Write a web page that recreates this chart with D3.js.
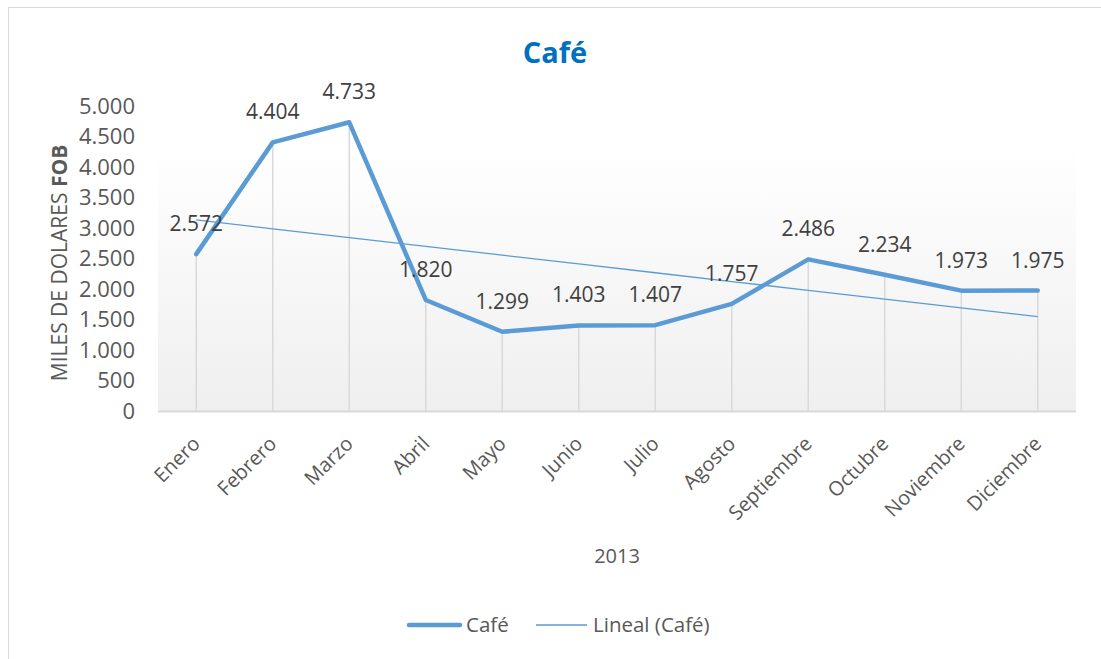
<!DOCTYPE html>
<html>
<head>
<meta charset="utf-8">
<script src="https://cdn.jsdelivr.net/npm/d3@7"></script>
<style>
  html, body { margin: 0; padding: 0; background: #fff; }
  svg { display: block; font-family: "Open Sans", sans-serif; }
</style>
</head>
<body>
<svg id="chart" width="1101" height="659"></svg>
<script>
const months = ["Enero","Febrero","Marzo","Abril","Mayo","Junio","Julio","Agosto","Septiembre","Octubre","Noviembre","Diciembre"];
const cafe = [2572, 4404, 4733, 1820, 1299, 1403, 1407, 1757, 2486, 2234, 1973, 1975];
const yTicks = [0, 500, 1000, 1500, 2000, 2500, 3000, 3500, 4000, 4500, 5000];
const titleText = "Café";
const xTitle = "2013";
const legendLabels = ["Café", "Lineal (Café)"];

const svg = d3.select("#chart");
const color = "#5b9bd5";
const textColor = "#595959";

// border
svg.append("rect").attr("x", 8.5).attr("y", 7.5).attr("width", 1110).attr("height", 670)
  .attr("fill", "#fff").attr("stroke", "#d9d9d9").attr("stroke-width", 1);

const plot = {left: 158, right: 1076, top: 106, bottom: 411};
const x = d3.scaleBand().domain(months).range([plot.left, plot.right]);
const y = d3.scaleLinear().domain([0, 5000]).range([plot.bottom, plot.top]);
const cx = d => x(d) + x.bandwidth() / 2;
const fmt = d => d3.format(",")(d).replace(/,/g, ".");

// plot background gradient
const defs = svg.append("defs");
const grad = defs.append("linearGradient").attr("id", "bg").attr("x1", 0).attr("y1", 0).attr("x2", 0).attr("y2", 1);
grad.append("stop").attr("offset", "0%").attr("stop-color", "#ffffff");
grad.append("stop").attr("offset", "100%").attr("stop-color", "#efefef");
svg.append("rect").attr("x", plot.left).attr("y", 147).attr("width", plot.right - plot.left)
  .attr("height", plot.bottom - 147).attr("fill", "url(#bg)");

// vertical gridlines
svg.append("g").selectAll("line").data(months).join("line")
  .attr("x1", d => cx(d)).attr("x2", d => cx(d))
  .attr("y1", d => y(0)).attr("y2", (d, i) => y(cafe[i]))
  .attr("stroke", "#d9d9d9").attr("stroke-width", 1.5);

// x axis line
svg.append("line").attr("x1", plot.left).attr("x2", plot.right)
  .attr("y1", y(0) + 0.5).attr("y2", y(0) + 0.5).attr("stroke", "#d9d9d9").attr("stroke-width", 2);

// y axis tick labels
const yAxis = d3.axisLeft(y).tickValues(yTicks).tickSize(0).tickPadding(0).tickFormat(fmt);
const gy = svg.append("g").attr("transform", `translate(135,0)`).call(yAxis);
gy.select(".domain").remove();
gy.selectAll("text").attr("font-size", "22px").attr("fill", textColor)
  .attr("font-family", "Open Sans, sans-serif");

// x axis labels
const xAxis = d3.axisBottom(x).tickSize(0).tickPadding(0);
const gx = svg.append("g").attr("transform", `translate(0,${y(0)})`).call(xAxis);
gx.select(".domain").remove();
gx.selectAll("text")
  .attr("font-size", "20px").attr("fill", textColor).attr("font-family", "Open Sans, sans-serif")
  .attr("text-anchor", "end").attr("dy", null).attr("y", 0)
  .attr("transform", "translate(5,34) rotate(-45)");

// trendline (linear regression)
const n = cafe.length;
const xs = d3.range(1, n + 1);
const mx = d3.mean(xs), my = d3.mean(cafe);
const slope = d3.sum(xs, (v, i) => (v - mx) * (cafe[i] - my)) / d3.sum(xs, v => (v - mx) ** 2);
const intercept = my - slope * mx;
const trend = xs.map(v => intercept + slope * v);

svg.append("path").datum(trend)
  .attr("d", d3.line().x((d, i) => cx(months[i])).y(d => y(d)))
  .attr("fill", "none").attr("stroke", color).attr("stroke-width", 1.3);

// main line
svg.append("path").datum(cafe)
  .attr("d", d3.line().x((d, i) => cx(months[i])).y(d => y(d)))
  .attr("fill", "none").attr("stroke", color).attr("stroke-width", 4.5)
  .attr("stroke-linejoin", "round").attr("stroke-linecap", "round");

// data labels
svg.append("g").selectAll("text").data(cafe).join("text")
  .attr("x", (d, i) => cx(months[i])).attr("y", d => y(d) - 23)
  .attr("text-anchor", "middle").attr("font-size", "21px").attr("fill", "#404040")
  .text(fmt);

// title
svg.append("text").attr("x", 555).attr("y", 63).attr("text-anchor", "middle")
  .attr("font-size", "29px").attr("font-weight", "bold").attr("fill", "#0070c0")
  .text(titleText);

// y title
const yt = svg.append("text").attr("transform", "translate(67,263) rotate(-90)")
  .attr("text-anchor", "middle").attr("font-size", "21px").attr("fill", textColor);
yt.append("tspan").text("MILES DE DOLARES ");
yt.append("tspan").attr("font-weight", "bold").text("FOB");

// x title
svg.append("text").attr("x", 617).attr("y", 563).attr("text-anchor", "middle")
  .attr("font-size", "20px").attr("fill", textColor).text(xTitle);

// legend
const lg = svg.append("g");
lg.append("line").attr("x1", 409).attr("x2", 460).attr("y1", 625).attr("y2", 625)
  .attr("stroke", color).attr("stroke-width", 4.5).attr("stroke-linecap", "round");
lg.append("text").attr("x", 466).attr("y", 632).attr("font-size", "20.5px").attr("fill", textColor).text(legendLabels[0]);
lg.append("line").attr("x1", 536).attr("x2", 587).attr("y1", 625).attr("y2", 625)
  .attr("stroke", color).attr("stroke-width", 1.3);
lg.append("text").attr("x", 593).attr("y", 632).attr("font-size", "20.5px").attr("fill", textColor).text(legendLabels[1]);
</script>
</body>
</html>
